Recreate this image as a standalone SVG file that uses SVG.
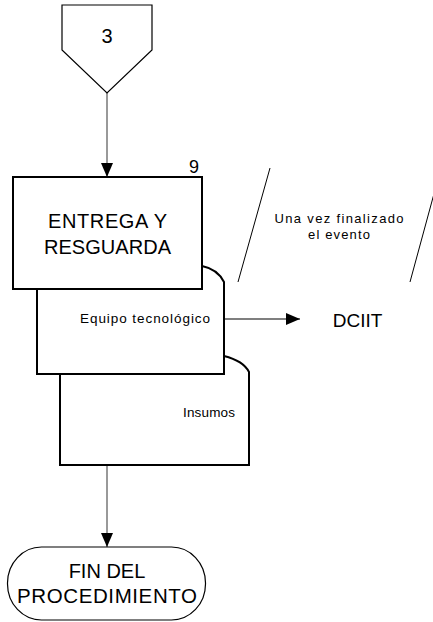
<svg xmlns="http://www.w3.org/2000/svg" width="433" height="622" viewBox="0 0 433 622">
<style>
  .shape { fill: #ffffff; stroke: #000000; }
  .thick { stroke-width: 2; }
  .thin { stroke-width: 1.2; }
  .txt { font-family: "Liberation Sans", Arial, sans-serif; fill: #000000; text-anchor: middle; }
  .conn { stroke: #555555; stroke-width: 1.2; fill: none; }
  .connb { stroke: #000000; stroke-width: 1.2; fill: none; }
  .anno { stroke: #000000; stroke-width: 1; fill: none; }
</style>
<defs>
  <marker id="arrow" markerUnits="userSpaceOnUse" markerWidth="14" markerHeight="14" viewBox="0 0 14 12" refX="14" refY="6" orient="auto">
    <path d="M0,0 L14,6 L0,12 Z" fill="#000000"/>
  </marker>
</defs>
<rect width="433" height="622" fill="#ffffff"/>

<g id="connectors">
  <line class="conn" x1="107" y1="93" x2="107" y2="177" marker-end="url(#arrow)"/>
  <line class="connb" x1="224" y1="319" x2="300" y2="319" marker-end="url(#arrow)"/>
  <line class="conn" x1="107" y1="465" x2="107" y2="547" marker-end="url(#arrow)"/>
</g>

<g id="offpage3">
  <polygon class="shape thin" points="62,5 152,5 152,50 107,93 62,50"/>
  <text class="txt" x="107" y="43" font-size="20">3</text>
</g>

<g id="doc-insumos">
  <path class="shape thick" d="M60,356 L224,356 C236,359 245,364 249,372 L249,465 L60,465 Z"/>
  <text class="txt" x="209" y="417" font-size="13.5" textLength="52" lengthAdjust="spacing">Insumos</text>
</g>

<g id="doc-equipo">
  <path class="shape thick" d="M37,266 L202,266 C212,268 220,274 224,282 L224,374 L37,374 Z"/>
  <text class="txt" x="145" y="323" font-size="13.5" textLength="130" lengthAdjust="spacing">Equipo tecnológico</text>
</g>

<g id="process9">
  <rect class="shape thick" x="13" y="177" width="189" height="112"/>
  <text class="txt" x="107.5" y="228" font-size="20" textLength="119" lengthAdjust="spacing">ENTREGA Y</text>
  <text class="txt" x="107.5" y="254" font-size="20" textLength="127" lengthAdjust="spacing">RESGUARDA</text>
  <text class="txt" x="194" y="173" font-size="18">9</text>
</g>

<g id="annotation">
  <line class="anno" x1="270" y1="168" x2="238" y2="282"/>
  <line class="anno" x1="441" y1="168" x2="410" y2="282"/>
  <text class="txt" x="339" y="223" font-size="13" textLength="129" lengthAdjust="spacing">Una vez finalizado</text>
  <text class="txt" x="339" y="239" font-size="13" textLength="62" lengthAdjust="spacing">el evento</text>
</g>

<g id="dciit">
  <text class="txt" x="357.5" y="327" font-size="19">DCIIT</text>
</g>

<g id="fin">
  <rect class="shape thin" x="7.5" y="547" width="198" height="73" rx="34" ry="36"/>
  <text class="txt" x="107" y="578" font-size="20">FIN DEL</text>
  <text class="txt" x="107" y="603" font-size="20.5" textLength="180" lengthAdjust="spacing">PROCEDIMIENTO</text>
</g>
</svg>
